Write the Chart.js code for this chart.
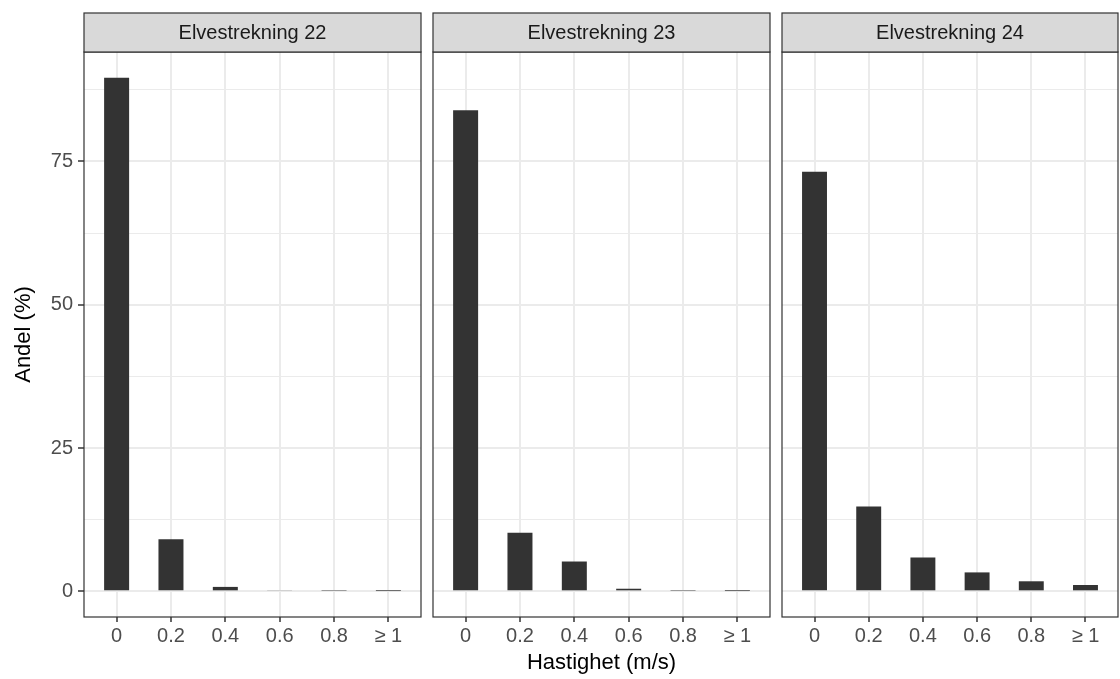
<!DOCTYPE html>
<html>
<head>
<meta charset="utf-8">
<script src="https://cdn.jsdelivr.net/npm/chart.js@4"></script>
<style>
  html, body { margin: 0; padding: 0; background: #fff; }
  #wrap { position: relative; width: 1120px; height: 679px; }
  .panel { position: absolute; top: 0; height: 679px; }
</style>
</head>
<body>
<div id="wrap">
  <div class="panel" style="left:0;width:424px"><canvas id="p1"></canvas></div>
  <div class="panel" style="left:430px;width:343px"><canvas id="p2"></canvas></div>
  <div class="panel" style="left:779px;width:341px"><canvas id="p3"></canvas></div>
</div>
<script>
// categories and values
const categories = ['0', '0.2', '0.4', '0.6', '0.8', '\u2265 1'];
const panelNames = ['Elvestrekning 22', 'Elvestrekning 23', 'Elvestrekning 24'];
const values22 = [89.6, 9.1, 0.77, 0.15, 0.1, 0.05];
const values23 = [83.9, 10.2, 5.2, 0.45, 0.1, 0.05];
const values24 = [73.2, 14.8, 5.9, 3.3, 1.75, 1.1];
const yTicks = [0, 25, 50, 75];
const xTitle = 'Hastighet (m/s)';
const yTitle = 'Andel (%)';

const FONT = "'Liberation Sans', Arial, sans-serif";
const dataMax = Math.max(...values22, ...values23, ...values24);
const yMin = -0.05 * dataMax;
const yMax = 1.05 * dataMax;

// panel border + strip on top
const stripPlugin = {
    id: 'strip',
    afterDraw(chart, args, opts) {
        const { ctx, chartArea } = chart;
        ctx.save();
        ctx.strokeStyle = '#333333';
        ctx.lineWidth = 1.2;
        ctx.strokeRect(chartArea.left, chartArea.top, chartArea.right - chartArea.left, chartArea.bottom - chartArea.top);
        const top = 13;
        ctx.fillStyle = '#D9D9D9';
        ctx.fillRect(chartArea.left, top, chartArea.right - chartArea.left, chartArea.top - top);
        ctx.strokeRect(chartArea.left, top, chartArea.right - chartArea.left, chartArea.top - top);
        ctx.fillStyle = '#1A1A1A';
        ctx.font = '20px ' + FONT;
        ctx.textAlign = 'center';
        ctx.textBaseline = 'middle';
        ctx.fillText(opts.text, (chartArea.left + chartArea.right) / 2, (top + chartArea.top) / 2 + 1);
        ctx.restore();
    }
};

function makePanel(id, name, values, opts) {
    const ctx = document.getElementById(id).getContext('2d');
    return new Chart(ctx, {
        type: 'bar',
        data: {
            datasets: [{
                data: values.map((v, i) => ({ x: i, y: v })),
                backgroundColor: '#333333',
                borderWidth: 0,
                categoryPercentage: 1,
                barPercentage: 0.46
            }]
        },
        plugins: [stripPlugin],
        options: {
            responsive: true,
            maintainAspectRatio: false,
            animation: false,
            layout: { padding: { top: 52, left: opts.padLeft, right: opts.padRight, bottom: 0 } },
            plugins: {
                legend: { display: false },
                tooltip: { enabled: false },
                strip: { text: name }
            },
            scales: {
                x: {
                    type: 'linear',
                    offset: false,
                    min: -0.6,
                    max: categories.length - 0.4,
                    afterBuildTicks: (axis) => { axis.ticks = categories.map((c, i) => ({ value: i })); },
                    afterFit: (axis) => { axis.height = 62; },
                    grid: {
                        offset: false,
                        color: '#EBEBEB',
                        lineWidth: 2,
                        tickColor: '#333333',
                        tickLength: 5,
                        tickWidth: 1.5
                    },
                    border: { display: false },
                    ticks: {
                        color: '#4D4D4D',
                        font: { family: FONT, size: 20 },
                        padding: 2,
                        maxRotation: 0,
                        autoSkip: false,
                        callback: (v) => categories[v]
                    },
                    title: {
                        display: opts.showXTitle,
                        text: xTitle,
                        color: '#000000',
                        font: { family: FONT, size: 22 },
                        padding: { top: 0, bottom: 3 }
                    }
                },
                y: {
                    min: yMin,
                    max: yMax,
                    afterBuildTicks: (axis) => {
                        const t = [];
                        for (let i = 0; i < yTicks.length; i++) {
                            t.push({ value: yTicks[i] });
                            t.push({ value: yTicks[i] + 12.5 });
                        }
                        axis.ticks = t;
                    },
                    afterFit: (axis) => { axis.width = opts.yWidth; },
                    grid: {
                        color: '#EBEBEB',
                        lineWidth: (c) => (yTicks.includes(c.tick.value) ? 2 : 1),
                        tickColor: (c) => (yTicks.includes(c.tick.value) ? '#333333' : 'rgba(0,0,0,0)'),
                        drawTicks: opts.showY,
                        tickLength: 6,
                        tickWidth: 1.5
                    },
                    border: { display: false },
                    ticks: {
                        display: opts.showY,
                        color: '#4D4D4D',
                        font: { family: FONT, size: 20 },
                        padding: 5,
                        callback: (v) => (yTicks.includes(v) ? String(v) : '')
                    },
                    title: {
                        display: opts.showY,
                        text: yTitle,
                        color: '#000000',
                        font: { family: FONT, size: 22 },
                        padding: { top: 11, bottom: 0 }
                    }
                }
            }
        }
    });
}

makePanel('p1', panelNames[0], values22, { padLeft: 0, padRight: 3, yWidth: 84, showY: true, showXTitle: false });
makePanel('p2', panelNames[1], values23, { padLeft: 3, padRight: 3, yWidth: 0, showY: false, showXTitle: true });
makePanel('p3', panelNames[2], values24, { padLeft: 3, padRight: 2, yWidth: 0, showY: false, showXTitle: false });
</script>
</body>
</html>
